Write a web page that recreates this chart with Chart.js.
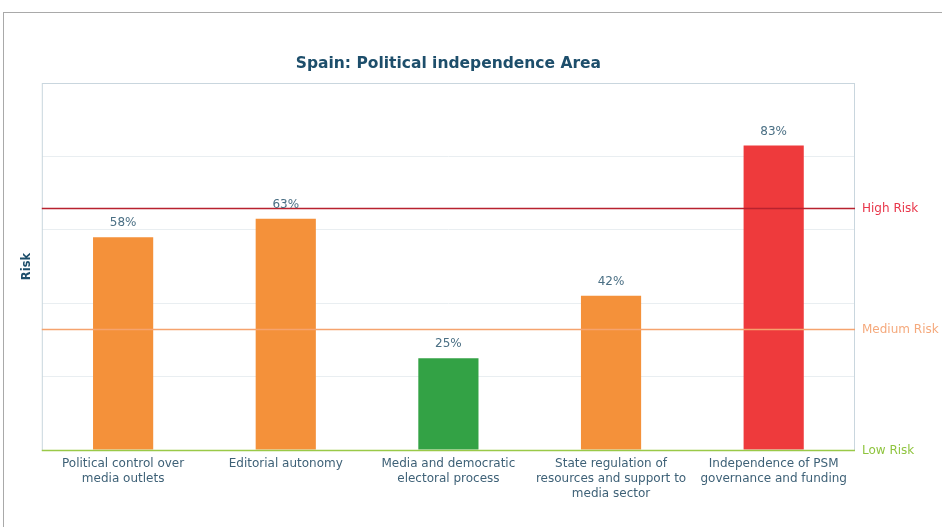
<!DOCTYPE html>
<html>
<head>
<meta charset="utf-8">
<script src="https://cdn.jsdelivr.net/npm/chart.js@4"></script>
<style>
  body { margin: 0; background: #fff; }
  #frame { position: absolute; left: 3px; top: 12px; width: 939px; height: 515px;
           border-top: 1px solid #a9a9a9; border-left: 1px solid #a9a9a9; }
  canvas { position: absolute; left: 0; top: 0; }
</style>
</head>
<body>
<div id="frame"></div>
<canvas id="chart" width="942" height="527"></canvas>
<script>
// data
const chartTitle = 'Spain: Political independence Area';
const categories = [
    ['Political control over', 'media outlets'],
    'Editorial autonomy',
    ['Media and democratic', 'electoral process'],
    ['State regulation of', 'resources and support to', 'media sector'],
    ['Independence of PSM', 'governance and funding']
];
const riskValues = [58, 63, 25, 42, 83];
const barColors = ['#f4913a', '#f4913a', '#33a245', '#f4913a', '#ee3a3c'];

const riskLevels = ['High Risk', 'Medium Risk', 'Low Risk'];
const riskThresholds = [66, 33, 0];
const riskLineColors = ['#b8222f', '#f5a36e', '#9ac948'];
const riskTextColors = ['#e8364a', '#f5a97c', '#8fc43f'];

const textColor = '#3e6177';

// lignes de risque + cadre + titre centré sur la zone du graphe
const riskLinesPlugin = {
    id: 'riskLines',
    beforeDatasetsDraw(chart) {
        const { ctx, chartArea: a } = chart;
        ctx.save();
        ctx.strokeStyle = '#c9d6de';
        ctx.lineWidth = 1;
        ctx.strokeRect(a.left + 0.5, a.top + 0.5, a.right - a.left - 1, a.bottom - a.top);
        ctx.fillStyle = '#1d4e6b';
        ctx.font = 'bold 15.5px "DejaVu Sans"';
        ctx.textAlign = 'center';
        ctx.textBaseline = 'middle';
        ctx.fillText(chartTitle, (a.left + a.right) / 2, a.top - 19);
        ctx.restore();
    },
    afterDatasetsDraw(chart) {
        const { ctx, chartArea: a, scales: { y } } = chart;
        ctx.save();
        riskThresholds.forEach((v, i) => {
            const py = Math.round(y.getPixelForValue(v)) + 0.5;
            ctx.strokeStyle = riskLineColors[i];
            ctx.lineWidth = 1.5;
            ctx.beginPath();
            ctx.moveTo(a.left, py);
            ctx.lineTo(a.right, py);
            ctx.stroke();
            ctx.fillStyle = riskTextColors[i];
            ctx.font = '12px "DejaVu Sans"';
            ctx.textAlign = 'left';
            ctx.textBaseline = 'middle';
            ctx.fillText(riskLevels[i], a.right + 7, py);
        });
        // valeurs au-dessus des barres
        const meta = chart.getDatasetMeta(0);
        ctx.fillStyle = '#4a6f84';
        ctx.font = '12px "DejaVu Sans"';
        ctx.textAlign = 'center';
        ctx.textBaseline = 'middle';
        meta.data.forEach((bar, i) => {
            ctx.fillText(riskValues[i] + '%', bar.x, bar.y - 14);
        });
        ctx.restore();
    }
};

const ctx = document.getElementById('chart').getContext('2d');
new Chart(ctx, {
    type: 'bar',
    data: {
        labels: categories,
        datasets: [{
            label: 'Risk',
            data: riskValues,
            backgroundColor: barColors,
            barPercentage: 0.37,
            categoryPercentage: 1.0
        }]
    },
    options: {
        responsive: false,
        animation: false,
        layout: { padding: { top: 83, left: 20, right: 87, bottom: 20 } },
        scales: {
            x: {
                grid: { display: false, drawTicks: false },
                border: { display: false },
                ticks: {
                    color: textColor,
                    font: { family: 'DejaVu Sans', size: 12, lineHeight: 1.25 },
                    padding: 6,
                    maxRotation: 0,
                    autoSkip: false
                }
            },
            y: {
                min: 0,
                max: 100,
                grid: { color: '#e9eef1', drawTicks: false },
                border: { display: false },
                ticks: { display: false, stepSize: 20 },
                title: {
                    display: true,
                    text: 'Risk',
                    color: '#1d4e6b',
                    font: { family: 'DejaVu Sans', size: 11.5, weight: 'bold' },
                    padding: { top: 0, bottom: 8 }
                }
            }
        },
        plugins: {
            legend: { display: false },
            tooltip: { enabled: false },
            title: { display: false }
        }
    },
    plugins: [riskLinesPlugin]
});
</script>
</body>
</html>
